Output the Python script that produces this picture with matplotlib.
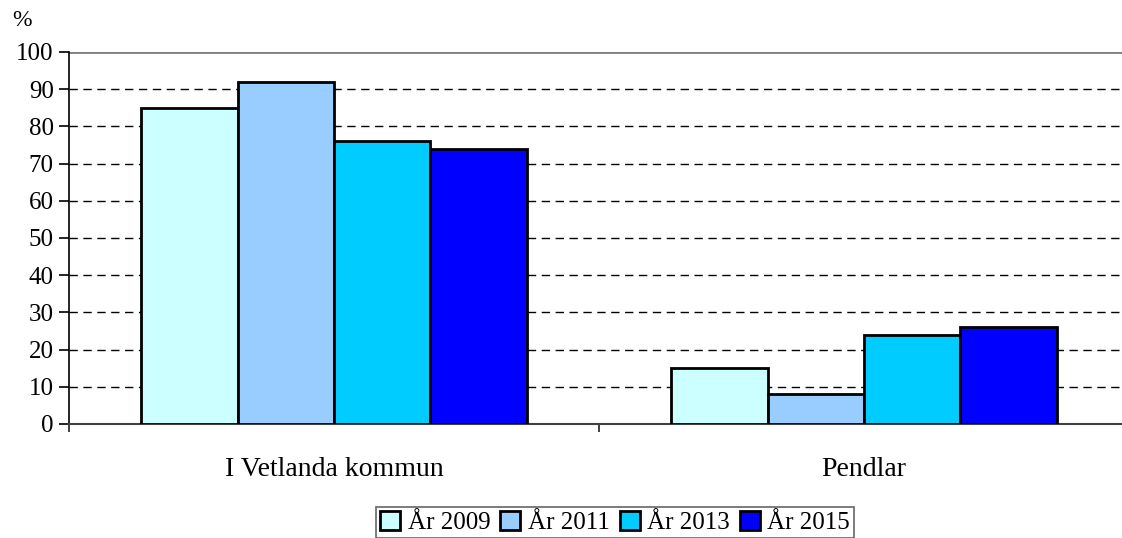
import matplotlib.pyplot as plt
import numpy as np

plt.rcParams['font.family'] = ['Liberation Serif', 'DejaVu Serif']

categories = ["I Vetlanda kommun", "Pendlar"]
years = ["År 2009", "År 2011", "År 2013", "År 2015"]
values = [
    [85, 15],
    [92, 8],
    [76, 24],
    [74, 26],
]
colours = ["#ccffff", "#99ccff", "#00ccff", "#0000ff"]

fig = plt.figure(figsize=(11.22, 5.38), dpi=100)
ax = fig.add_axes([69/1122, 114/538, 1060/1122, 372/538])

x = np.arange(len(categories))
width = 0.182
for i, year in enumerate(years):
    ax.bar(x + (i - 1.5)*width, values[i], width, color=colours[i],
           edgecolor="black", linewidth=2, label=year, zorder=3)

for y in range(10, 100, 10):
    ax.axhline(y, color="black", linestyle=(0, (6, 4)), linewidth=1, zorder=1)
ax.axhline(100, color="#808080", linewidth=2, zorder=1)

ax.set_xlim(-0.5, 1.5)
ax.set_ylim(0, 100)
ax.set_yticks(range(0, 101, 10))
ax.set_xticks(x)
ax.set_xticklabels(categories)
ax.set_xticks([-0.5, 0.5, 1.5], minor=True)
ax.tick_params(axis="x", which="major", length=0, pad=24, labelsize=20)
ax.tick_params(axis="x", which="minor", length=5.5, width=1.2, direction="out", color="#202020")
ax.tick_params(axis="y", length=7, width=1.2, direction="out", labelsize=18, pad=4)

for side in ["top", "right"]:
    ax.spines[side].set_visible(False)
ax.spines["left"].set_linewidth(1.2)
ax.spines["bottom"].set_color("#404040")
ax.spines["bottom"].set_linewidth(1.5)

fig.text(12/1122, 1 - 21/538, "%", fontsize=17, va="center")

leg = fig.legend(loc="upper center", bbox_to_anchor=(615/1122, 1 - 507/538), ncol=4,
                 fontsize=18, frameon=True, fancybox=False, edgecolor="#404040",
                 handlelength=0.8, handleheight=0.8, handletextpad=0.3,
                 columnspacing=0.4, borderpad=0.15, borderaxespad=0)
leg.get_frame().set_linewidth(1.2)
for h in leg.legend_handles:
    h.set_linewidth(2)

fig.savefig("out.png", dpi=100)
